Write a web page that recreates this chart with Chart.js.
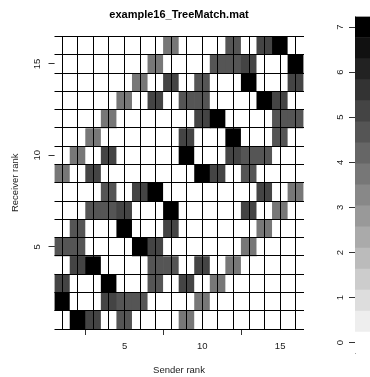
<!DOCTYPE html>
<html lang="en">
<head>
<meta charset="UTF-8">
<title>example16_TreeMatch.mat</title>
<script src="https://cdn.jsdelivr.net/npm/chart.js@4.4.0/dist/chart.umd.min.js"></script>
<style>
  body { margin: 0; background: #fff; width: 370px; height: 377px; overflow: hidden; position: relative; }
  canvas { position: absolute; left: 0; top: 0; }
  #heat { width: 358px; height: 377px; }
  #scale { width: 370px; height: 377px; }
</style>
</head>
<body>
<canvas id="heat" width="358" height="377"></canvas>
<canvas id="scale" width="370" height="377"></canvas>
<script>
  // sender / receiver ranks (x / y)
  const senders   = [1, 2, 3, 4, 5, 6, 7, 8, 9, 10, 11, 12, 13, 14, 15, 16];
  const receivers = [1, 2, 3, 4, 5, 6, 7, 8, 9, 10, 11, 12, 13, 14, 15, 16];

  // TreeMatch communication matrix, one row per receiver rank (rank 1 first)
  const matrix = [
    [0, 7, 5.1, 0, 4.7, 0, 0, 0, 3.7, 0, 0, 0, 0, 0, 0, 0],
    [7, 0, 0, 5.1, 4.7, 4.7, 0, 0, 0, 3.7, 0, 0, 0, 0, 0, 0],
    [5.1, 0, 0, 7, 0, 0, 4.7, 0, 5.1, 0, 3.7, 0, 0, 0, 0, 0],
    [0, 5.1, 7, 0, 0, 0, 4.7, 4.7, 0, 5.1, 0, 3.7, 0, 0, 0, 0],
    [4.7, 4.7, 0, 0, 0, 7, 5.1, 0, 0, 0, 0, 0, 3.7, 0, 0, 0],
    [0, 4.7, 0, 0, 7, 0, 0, 5.1, 0, 0, 0, 0, 0, 3.7, 0, 0],
    [0, 0, 4.7, 4.7, 5.1, 0, 0, 7, 0, 0, 0, 0, 5.1, 0, 3.7, 0],
    [0, 0, 0, 4.7, 0, 5.1, 7, 0, 0, 0, 0, 0, 0, 5.1, 0, 3.7],
    [3.7, 0, 5.1, 0, 0, 0, 0, 0, 0, 7, 5.1, 0, 4.7, 0, 0, 0],
    [0, 3.7, 0, 5.1, 0, 0, 0, 0, 7, 0, 0, 5.1, 4.7, 4.7, 0, 0],
    [0, 0, 3.7, 0, 0, 0, 0, 0, 5.1, 0, 0, 7, 0, 0, 4.7, 0],
    [0, 0, 0, 3.7, 0, 0, 0, 0, 0, 5.1, 7, 0, 0, 0, 4.7, 4.7],
    [0, 0, 0, 0, 3.7, 0, 5.1, 0, 4.7, 4.7, 0, 0, 0, 7, 5.1, 0],
    [0, 0, 0, 0, 0, 3.7, 0, 5.1, 0, 4.7, 0, 0, 7, 0, 0, 5.1],
    [0, 0, 0, 0, 0, 0, 3.7, 0, 0, 0, 4.7, 4.7, 5.1, 0, 0, 7],
    [0, 0, 0, 0, 0, 0, 0, 3.7, 0, 0, 0, 4.7, 0, 5.1, 7, 0]
  ];

  const axisTicks = [5, 10, 15];
  const scaleTicks = [0, 1, 2, 3, 4, 5, 6, 7];
  const zMax = 7;
  const nLevels = 16;

  Chart.defaults.font.family = '"Liberation Sans", Arial, sans-serif';
  Chart.defaults.color = '#222';

  // 16 grey levels, white (0) to black (zMax)
  const step = zMax / (nLevels - 1);
  function shade(v) {
    const k = Math.max(0, Math.min(nLevels - 1, Math.round(v / step)));
    const g = 255 - 17 * k;
    return `rgb(${g},${g},${g})`;
  }

  const cells = [];
  matrix.forEach((row, i) => {
    row.forEach((v, j) => {
      cells.push({ x: senders[j], y: [receivers[i] - 0.5, receivers[i] + 0.5], v: v });
    });
  });

  const edges = [];
  for (let i = 0; i <= senders.length; i++) edges.push(i + 0.5);

  const setTicks = vals => s => { s.ticks = vals.map(v => ({ value: v })); };
  const tickFont = { size: 9.5 };

  new Chart(document.getElementById('heat'), {
    type: 'bar',
    data: {
      datasets: [{
        data: cells,
        backgroundColor: c => shade(c.raw ? c.raw.v : 0),
        borderWidth: 0,
        barPercentage: 1,
        categoryPercentage: 1,
        grouped: false
      }]
    },
    options: {
      responsive: false,
      animation: false,
      plugins: {
        legend: { display: false },
        tooltip: { enabled: false },
        title: {
          display: true,
          text: 'example16_TreeMatch.mat',
          color: '#000',
          font: { size: 11, weight: 'bold' },
          padding: { top: 8, bottom: 15.3 }
        }
      },
      scales: {
        x: {
          type: 'linear', min: 0.5, max: 16.5, offset: false,
          afterBuildTicks: setTicks(axisTicks),
          grid: { drawOnChartArea: false, tickLength: 6, color: '#333' },
          border: { display: false },
          ticks: { font: tickFont, padding: 6, maxRotation: 0, autoSkip: false },
          title: { display: true, text: 'Sender rank', font: tickFont, padding: { top: 0, bottom: 1.3 } },
          afterFit: s => { s.height = 48; }
        },
        y: {
          type: 'linear', min: 0.5, max: 16.5, offset: false,
          afterBuildTicks: setTicks(axisTicks),
          grid: { drawOnChartArea: false, tickLength: 6, color: '#333' },
          border: { display: false },
          ticks: { font: tickFont, padding: 5.5, minRotation: 90, maxRotation: 90, crossAlign: 'center', autoSkip: false },
          title: { display: true, text: 'Receiver rank', font: tickFont, padding: { top: 9.3, bottom: 0 } },
          afterFit: s => { s.width = 54.5; }
        },
        // cell outlines, drawn over the bars
        xg: {
          type: 'linear', position: 'top', min: 0.5, max: 16.5, offset: false,
          afterBuildTicks: setTicks(edges),
          grid: { color: '#000', lineWidth: 1, drawTicks: false, z: 1 },
          border: { display: false },
          ticks: { display: false },
          afterFit: s => { s.height = 0; }
        },
        yg: {
          type: 'linear', position: 'right', min: 0.5, max: 16.5, offset: false,
          afterBuildTicks: setTicks(edges),
          grid: { color: '#000', lineWidth: 1, drawTicks: false, z: 1 },
          border: { display: false },
          ticks: { display: false },
          afterFit: s => { s.width = 54.5; }
        }
      }
    }
  });

  // colour key on the right edge
  const levels = [];
  for (let k = 0; k < nLevels; k++) levels.push(k * step);

  new Chart(document.getElementById('scale'), {
    type: 'bar',
    data: {
      labels: [''],
      datasets: levels.map(v => ({
        data: [[v - step / 2, v + step / 2]],
        backgroundColor: shade(v),
        borderWidth: 0,
        barPercentage: 1,
        categoryPercentage: 1,
        grouped: false
      }))
    },
    options: {
      responsive: false,
      animation: false,
      layout: { padding: { top: 16.5, bottom: 23.8, left: 320, right: 0 } },
      plugins: { legend: { display: false }, tooltip: { enabled: false } },
      scales: {
        x: { display: false },
        y: {
          min: -step / 2, max: zMax + step / 2,
          afterBuildTicks: setTicks(scaleTicks),
          grid: { drawOnChartArea: false, tickLength: 6, color: '#333' },
          border: { display: true, color: '#999' },
          ticks: { font: tickFont, padding: 6, minRotation: 90, maxRotation: 90, crossAlign: 'center' },
          afterFit: s => { s.width = 35; }
        }
      }
    }
  });
</script>
</body>
</html>
